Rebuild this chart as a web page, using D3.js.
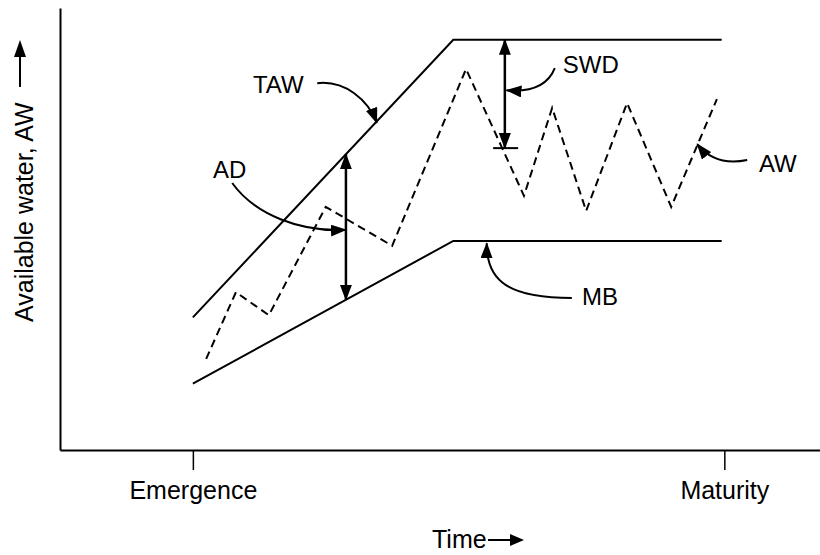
<!DOCTYPE html>
<html>
<head>
<meta charset="utf-8">
<script src="https://cdn.jsdelivr.net/npm/d3@7"></script>
<style>
  html, body { margin: 0; padding: 0; background: #fff; }
  svg { display: block; }
  text { font-family: "Liberation Sans", Arial, Helvetica, sans-serif; fill: #000; }
</style>
</head>
<body>
<svg id="chart" width="820" height="555"></svg>
<script>
// ---------------- data (schematic units: time 0 = emergence, 100 = maturity) ----------------
const xTickValues = [0, 100];
const xTickLabels = ["Emergence", "Maturity"];
const xTitle = "Time";
const yTitle = "Available water, AW";

// Total available water (TAW)
const tawX = [0, 49, 99.5];
const tawY = [30, 92.8, 92.8];
// Management boundary (MB)
const mbX = [0, 49, 99.5];
const mbY = [15, 47.3, 47.3];
// Available water (AW) – dashed
const awX = [2.5, 8.1, 14.3, 25.0, 37.5, 51.4, 62.3, 67.6, 74.0, 81.7, 90.0, 98.6];
const awY = [20.6, 35.7, 30.5, 55.0, 46.2, 86.2, 57.5, 77.4, 54.1, 78.5, 55.0, 79.4];

// Allowable depletion (AD) double arrow, soil water deficit (SWD) double arrow
const adX = 28.8;
const swdX = 58.7;
const swdBottom = 68.3;
const swdBarX = [56.5, 61.2];

// Annotation labels and leader curves (cubic: start, ctrl1, ctrl2, tip)
const annoNames = ["TAW", "AD", "SWD", "AW", "MB"];
const annoTextX = [11.3, 3.8, 69.6, 106.5, 73.2];
const annoTextY = [80.8, 61.5, 85.3, 62.9, 32.8];
const annoCurveX = [
  [23.4, 28.6, 33.0, 34.6],
  [7.4, 11.7, 20.2, 28.8],
  [68.1, 66.6, 62.9, 59.0],
  [104.3, 100.7, 97.3, 94.9],
  [71.3, 59.7, 55.2, 55.3]
];
const annoCurveY = [
  [83.0, 83.7, 79.2, 74.0],
  [60.4, 53.2, 49.3, 49.8],
  [86.4, 81.9, 81.0, 81.4],
  [65.6, 64.7, 65.6, 69.2],
  [34.4, 34.4, 38.0, 46.8]
];

// ---------------- drawing ----------------
const svg = d3.select("#chart");
const x = d3.scaleLinear().domain([-25, 118]).range([60, 820]);
const y = d3.scaleLinear().domain([0, 100]).range([450, 8]);

const defs = svg.append("defs");
defs.append("marker")
  .attr("id", "head")
  .attr("markerUnits", "userSpaceOnUse")
  .attr("viewBox", "0 0 16 12")
  .attr("markerWidth", 16).attr("markerHeight", 12)
  .attr("refX", 15).attr("refY", 6)
  .attr("orient", "auto-start-reverse")
  .append("path").attr("d", "M0,0 L16,6 L0,12 Z").attr("fill", "#000");

// axes
const xAxis = d3.axisBottom(x)
  .tickValues(xTickValues)
  .tickFormat((d, i) => xTickLabels[i])
  .tickSize(20).tickSizeOuter(0).tickPadding(11);
const gx = svg.append("g").attr("transform", `translate(0,${y(0)})`).call(xAxis);
gx.select(".domain").attr("stroke", "#000").attr("stroke-width", 2);
gx.selectAll(".tick line").attr("stroke", "#000").attr("stroke-width", 1.5);
gx.selectAll(".tick text")
  .attr("font-size", 25).attr("font-family", "Liberation Sans, Arial, sans-serif").attr("fill", "#000");

const yAxis = d3.axisLeft(y).tickValues([]).tickSizeOuter(0);
const gy = svg.append("g").attr("transform", `translate(${x(-25)},0)`).call(yAxis);
gy.select(".domain").attr("stroke", "#000").attr("stroke-width", 2);

// axis titles
svg.append("text").attr("x", 432).attr("y", 548).attr("font-size", 25).text(xTitle);
svg.append("line").attr("x1", 488).attr("x2", 512).attr("y1", 540).attr("y2", 540)
  .attr("stroke", "#000").attr("stroke-width", 2);
svg.append("path").attr("d", "M510,534 L524,540 L510,546 Z").attr("fill", "#000");

svg.append("text").attr("transform", "translate(33,322) rotate(-90)")
  .attr("font-size", 25).text(yTitle);
svg.append("line").attr("x1", 20).attr("x2", 20).attr("y1", 87).attr("y2", 54)
  .attr("stroke", "#000").attr("stroke-width", 2);
svg.append("path").attr("d", "M14,57 L20,40 L26,57 Z").attr("fill", "#000");

// series
const line = d3.line().x(d => x(d[0])).y(d => y(d[1]));
svg.append("path").datum(tawX.map((v, i) => [v, tawY[i]]))
  .attr("d", line).attr("fill", "none").attr("stroke", "#000").attr("stroke-width", 2);
svg.append("path").datum(mbX.map((v, i) => [v, mbY[i]]))
  .attr("d", line).attr("fill", "none").attr("stroke", "#000").attr("stroke-width", 2);
svg.append("path").datum(awX.map((v, i) => [v, awY[i]]))
  .attr("d", line).attr("fill", "none").attr("stroke", "#000").attr("stroke-width", 2)
  .attr("stroke-dasharray", "8,5");

// helpers to evaluate TAW / MB at an x
const interp = (xs, ys, xv) => {
  for (let i = 0; i < xs.length - 1; i++) {
    if (xv >= xs[i] && xv <= xs[i + 1]) {
      const t = (xv - xs[i]) / (xs[i + 1] - xs[i]);
      return ys[i] + t * (ys[i + 1] - ys[i]);
    }
  }
  return ys[ys.length - 1];
};

// AD double arrow
svg.append("line")
  .attr("x1", x(adX)).attr("x2", x(adX))
  .attr("y1", y(interp(tawX, tawY, adX))).attr("y2", y(interp(mbX, mbY, adX)))
  .attr("stroke", "#000").attr("stroke-width", 2.5)
  .attr("marker-start", "url(#head)").attr("marker-end", "url(#head)");

// SWD double arrow + bar
svg.append("line")
  .attr("x1", x(swdX)).attr("x2", x(swdX))
  .attr("y1", y(interp(tawX, tawY, swdX))).attr("y2", y(swdBottom))
  .attr("stroke", "#000").attr("stroke-width", 2.5)
  .attr("marker-start", "url(#head)").attr("marker-end", "url(#head)");
svg.append("line")
  .attr("x1", x(swdBarX[0])).attr("x2", x(swdBarX[1]))
  .attr("y1", y(swdBottom)).attr("y2", y(swdBottom))
  .attr("stroke", "#000").attr("stroke-width", 2);

// annotations
annoNames.forEach((name, i) => {
  svg.append("text").attr("x", x(annoTextX[i])).attr("y", y(annoTextY[i]))
    .attr("font-size", 24).text(name);
  const cx = annoCurveX[i].map(x), cy = annoCurveY[i].map(y);
  const p = d3.path();
  p.moveTo(cx[0], cy[0]);
  p.bezierCurveTo(cx[1], cy[1], cx[2], cy[2], cx[3], cy[3]);
  svg.append("path").attr("d", p.toString()).attr("fill", "none")
    .attr("stroke", "#000").attr("stroke-width", 2)
    .attr("marker-end", "url(#head)");
});
</script>
</body>
</html>
